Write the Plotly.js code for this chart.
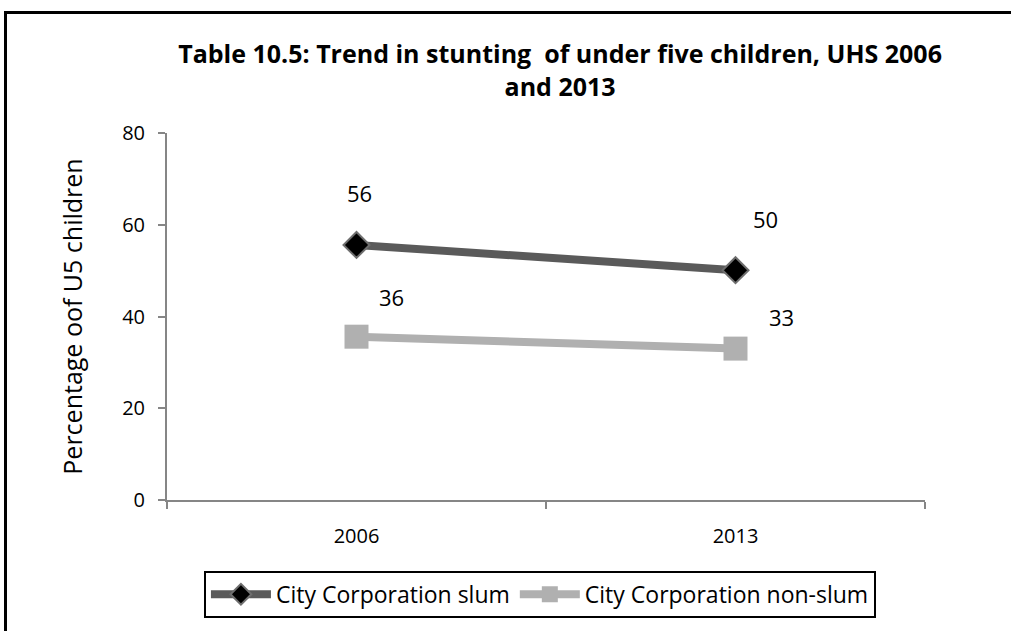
<!DOCTYPE html>
<html>
<head>
<meta charset="utf-8">
<script src="https://cdn.plot.ly/plotly-3.0.1.min.js"></script>
<style>
  html, body { margin: 0; padding: 0; background: #fff; }
  #wrap { position: relative; width: 1011px; height: 631px; overflow: hidden; }
  #frame { position: absolute; left: 4px; top: 11px; width: 1020px; height: 640px; border: 3px solid #000; box-sizing: border-box; pointer-events: none; z-index: 5; }
  #chart { position: absolute; left: 0; top: 0; width: 1011px; height: 631px; }
</style>
</head>
<body>
<div id="wrap">
  <div id="chart"></div>
  <div id="frame"></div>
</div>
<script>
const years = ['2006', '2013'];
const slum = [55.6, 50.1];
const nonSlum = [35.6, 33.0];
const slumLabels = ['56', '50'];
const nonSlumLabels = ['36', '33'];
const seriesNames = ['City Corporation slum', 'City Corporation non-slum'];

const FONT = 'Open Sans, sans-serif';

const traces = [
  {
    x: years, y: slum, name: seriesNames[0], type: 'scatter', mode: 'lines+markers',
    line: { color: '#5a5a5a', width: 8 },
    marker: { symbol: 'diamond', size: 20, color: '#000000', line: { color: '#6e6e6e', width: 2 } },
    hoverinfo: 'skip'
  },
  {
    x: years, y: nonSlum, name: seriesNames[1], type: 'scatter', mode: 'lines+markers',
    line: { color: '#b0b0b0', width: 8 },
    marker: { symbol: 'square', size: 24, color: '#b0b0b0' },
    hoverinfo: 'skip'
  }
];

const shifts = [[3, 52], [30, 51], [35, 40], [46, 32]];
const annotations = [];
const groups = [[slum, slumLabels], [nonSlum, nonSlumLabels]];
for (let s = 0; s < groups.length; s++) {
  const vals = groups[s][0], labs = groups[s][1];
  for (let i = 0; i < vals.length; i++) {
    const sh = shifts[s * 2 + i];
    annotations.push({
      x: i, y: vals[i], xref: 'x', yref: 'y', text: labs[i], showarrow: false,
      xanchor: 'center', yanchor: 'middle',
      xshift: sh[0], yshift: sh[1], font: { family: FONT, size: 22, color: '#000000' }
    });
  }
}

const layout = {
  width: 1011, height: 631,
  margin: { l: 167, r: 86, t: 133, b: 131 },
  paper_bgcolor: 'rgba(0,0,0,0)', plot_bgcolor: 'rgba(0,0,0,0)',
  font: { family: FONT, size: 20, color: '#000' },
  title: {
    text: '<b>Table 10.5: Trend in stunting  of under five children, UHS 2006</b><br><b>and 2013</b>',
    x: 0.554, xanchor: 'center', y: 0.9, yanchor: 'top',
    font: { family: FONT, size: 25, color: '#000' }
  },
  xaxis: {
    type: 'category', range: [-0.5, 1.5], tickson: 'boundaries',
    showline: true, linecolor: '#868686', linewidth: 2,
    ticks: 'outside', ticklen: 7, tickcolor: '#868686', tickwidth: 2,
    showgrid: false, zeroline: false, tickfont: { size: 20 }, ticklabelstandoff: 17
  },
  yaxis: {
    range: [0, 80], dtick: 20, tick0: 0,
    showline: true, linecolor: '#868686', linewidth: 2,
    ticks: 'outside', ticklen: 7, tickcolor: '#868686', tickwidth: 2,
    showgrid: false, zeroline: false, tickfont: { size: 20 }, ticklabelstandoff: 9,
    title: { text: 'Percentage oof U5 children', font: { size: 25 }, standoff: 32 }
  },
  showlegend: true,
  legend: {
    orientation: 'h', x: 0.492, xanchor: 'center', y: -0.193, yanchor: 'top',
    bordercolor: '#000', borderwidth: 2, font: { size: 23 }, itemwidth: 60,
    tracegroupgap: 0
  },
  annotations: annotations
};

Plotly.newPlot('chart', traces, layout, { displayModeBar: false, staticPlot: true });
</script>
</body>
</html>
